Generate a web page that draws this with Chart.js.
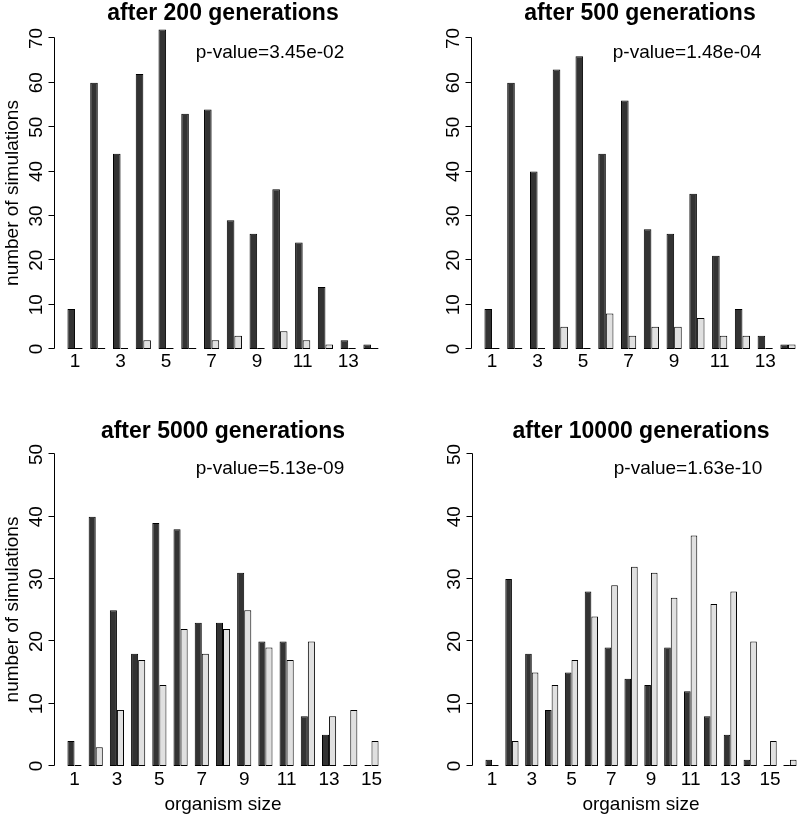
<!DOCTYPE html>
<html>
<head>
<meta charset="utf-8">
<title>organism size after n generations</title>
<script src="https://cdn.jsdelivr.net/npm/chart.js@4.4.1/dist/chart.umd.min.js"></script>
<style>
  body { margin: 0; background: #fff; }
  #page { position: relative; width: 800px; height: 818px; overflow: hidden; background: #fff; }
  .panel { position: absolute; }
  canvas { display: block; }
</style>
</head>
<body>
<div id="page">
  <div class="panel" style="left:0;top:0"><canvas id="gen200" width="400" height="400"></canvas></div>
  <div class="panel" style="left:400px;top:0"><canvas id="gen500" width="410" height="400"></canvas></div>
  <div class="panel" style="left:0;top:400px"><canvas id="gen5000" width="400" height="418"></canvas></div>
  <div class="panel" style="left:400px;top:400px"><canvas id="gen10000" width="410" height="418"></canvas></div>
</div>
<script>
// organism sizes (x categories)
const sizes14 = [1, 2, 3, 4, 5, 6, 7, 8, 9, 10, 11, 12, 13, 14];
const sizes15 = [1, 2, 3, 4, 5, 6, 7, 8, 9, 10, 11, 12, 13, 14, 15];
const sizes16 = [1, 2, 3, 4, 5, 6, 7, 8, 9, 10, 11, 12, 13, 14, 15, 16];

// x tick labels (R only prints the odd ones)
const xTicks14 = [1, 3, 5, 7, 9, 11, 13];
const xTicks16 = [1, 3, 5, 7, 9, 11, 13, 15];

// y tick labels
const yTicksTop = [0, 10, 20, 30, 40, 50, 60, 70];
const yTicksBottom = [0, 10, 20, 30, 40, 50];

// number of simulations, dark and light series
const gen200Dark = [9, 60, 44, 62, 72, 53, 54, 29, 26, 36, 24, 14, 2, 1];
const gen200Light = [0, 0, 0, 2, 0, 0, 2, 3, 0, 4, 2, 1, 0, 0];
const gen500Dark = [9, 60, 40, 63, 66, 44, 56, 27, 26, 35, 21, 9, 3, 1];
const gen500Light = [0, 0, 0, 5, 0, 8, 3, 5, 5, 7, 3, 3, 0, 1];
const gen5000Dark = [4, 40, 25, 18, 39, 38, 23, 23, 31, 20, 20, 8, 5, 0, 0];
const gen5000Light = [0, 3, 9, 17, 13, 22, 18, 22, 25, 19, 17, 20, 8, 9, 4];
const gen10000Dark = [1, 30, 18, 9, 15, 28, 19, 14, 13, 19, 12, 8, 5, 1, 0, 0];
const gen10000Light = [0, 4, 15, 13, 17, 24, 29, 32, 31, 27, 37, 26, 28, 20, 4, 1];

const FONT = '"Liberation Sans", Arial, Helvetica, sans-serif';
Chart.defaults.font.family = FONT;
Chart.defaults.color = '#000';

// x range like R's barplot(beside=TRUE): groups of 2 bars + 1 bar gap, 4% padding
function barRange(n) {
    const ext = 0.04 * (3 * n - 1);
    return { min: (2 - ext) / 3, max: (3 * n + 1 + ext) / 3 };
}

// draws the R style y axis, y label and the p-value text
const rAxisPlugin = {
    id: 'rAxis',
    afterDraw(chart, args, opts) {
        const ctx = chart.ctx;
        const area = chart.chartArea;
        const yScale = chart.scales.y;
        const ticks = opts.ticks;
        const x0 = Math.round(area.left) - 0.5;
        const yLow = Math.round(yScale.getPixelForValue(ticks[0])) - 0.5;
        const yHigh = Math.round(yScale.getPixelForValue(ticks[ticks.length - 1])) - 0.5;
        ctx.save();
        ctx.strokeStyle = '#000';
        ctx.lineWidth = 1;
        ctx.beginPath();
        ctx.moveTo(x0, yLow);
        ctx.lineTo(x0, yHigh);
        ticks.forEach(t => {
            const py = Math.round(yScale.getPixelForValue(t)) - 0.5;
            ctx.moveTo(x0 - 6, py);
            ctx.lineTo(x0, py);
        });
        ctx.stroke();

        ctx.fillStyle = '#000';
        ctx.font = '19px ' + FONT;
        ctx.textAlign = 'center';
        ctx.textBaseline = 'middle';
        ticks.forEach(t => {
            ctx.save();
            ctx.translate(area.left - 18, yScale.getPixelForValue(t));
            ctx.rotate(-Math.PI / 2);
            ctx.fillText(String(t), 0, 0);
            ctx.restore();
        });
        if (opts.yTitle) {
            ctx.save();
            ctx.translate(area.left - 42, (yLow + yHigh) / 2);
            ctx.rotate(-Math.PI / 2);
            ctx.fillText(opts.yTitle, 0, 0);
            ctx.restore();
        }
        ctx.fillText(opts.pValue, area.left + 215, yHigh + 15);
        ctx.restore();
    }
};

function makePanel(canvasId, cfg) {
    const range = barRange(cfg.sizes.length);
    const canvas = document.getElementById(canvasId);
    const top = cfg.row === 0;
    const barStyle = {
        borderColor: '#000',
        borderWidth: 1,
        borderSkipped: false,
        minBarLength: 1,
        inflateAmount: 0,
        categoryPercentage: 2 / 3,
        barPercentage: 1,
        clip: false
    };
    new Chart(canvas, {
        type: 'bar',
        data: {
            labels: cfg.sizes,
            datasets: [
                Object.assign({ label: 'dark', data: cfg.dark, backgroundColor: '#333333' }, barStyle),
                Object.assign({ label: 'light', data: cfg.light, backgroundColor: '#e0e0e0' }, barStyle)
            ]
        },
        plugins: [rAxisPlugin],
        options: {
            responsive: false,
            animation: false,
            events: [],
            layout: {
                padding: { left: cfg.axisX, right: canvas.width - cfg.axisX - 336, top: 0, bottom: 0 }
            },
            scales: {
                x: {
                    type: 'linear',
                    offset: false,
                    bounds: 'data',
                    min: range.min,
                    max: range.max,
                    grid: { display: false, drawTicks: false, offset: false },
                    border: { display: false },
                    afterBuildTicks: axis => {
                        axis.ticks = cfg.xTicks.map(v => ({ value: v }));
                    },
                    afterFit: scale => {
                        scale.height = top ? 51 : 52;
                    },
                    ticks: {
                        autoSkip: false,
                        maxRotation: 0,
                        padding: top ? 1.5 : 2.5,
                        font: { size: 19 }
                    },
                    title: {
                        display: !top,
                        text: 'organism size',
                        font: { size: 19 },
                        padding: { top: 0, bottom: 2 }
                    }
                },
                y: {
                    display: false,
                    min: 0,
                    max: top ? 72.8 : 50.8
                }
            },
            plugins: {
                legend: { display: false },
                tooltip: { enabled: false },
                title: {
                    display: true,
                    text: cfg.title,
                    color: '#000',
                    font: { size: 23, weight: 'bold', lineHeight: 1 },
                    padding: top ? { top: 2, bottom: 1 } : { top: 20.5, bottom: 6 }
                },
                rAxis: {
                    ticks: top ? yTicksTop : yTicksBottom,
                    yTitle: cfg.yTitle,
                    pValue: cfg.pValue
                }
            }
        }
    });
}

makePanel('gen200', {
    row: 0, axisX: 55, sizes: sizes14, xTicks: xTicks14,
    dark: gen200Dark, light: gen200Light,
    title: 'after 200 generations', pValue: 'p-value=3.45e-02',
    yTitle: 'number of simulations'
});
makePanel('gen500', {
    row: 0, axisX: 72, sizes: sizes14, xTicks: xTicks14,
    dark: gen500Dark, light: gen500Light,
    title: 'after 500 generations', pValue: 'p-value=1.48e-04'
});
makePanel('gen5000', {
    row: 1, axisX: 55, sizes: sizes15, xTicks: xTicks16.slice(0, 8),
    dark: gen5000Dark, light: gen5000Light,
    title: 'after 5000 generations', pValue: 'p-value=5.13e-09',
    yTitle: 'number of simulations'
});
makePanel('gen10000', {
    row: 1, axisX: 73, sizes: sizes16, xTicks: xTicks16,
    dark: gen10000Dark, light: gen10000Light,
    title: 'after 10000 generations', pValue: 'p-value=1.63e-10'
});
</script>
</body>
</html>
